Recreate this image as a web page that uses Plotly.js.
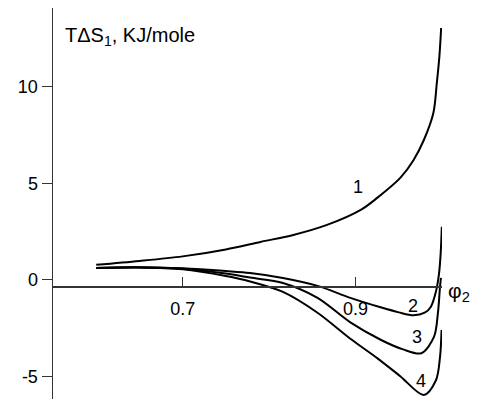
<!DOCTYPE html>
<html>
<head>
<meta charset="utf-8">
<script src="https://cdn.plot.ly/plotly-3.0.1.min.js"></script>
<style>body{margin:0;background:#fff}</style>
</head>
<body>
<div id="chart" style="width:477px;height:399px"></div>
<script>
// Curve 1
const phi1 = [0.60, 0.65, 0.70, 0.75, 0.79, 0.828, 0.867, 0.906, 0.925, 0.952, 0.967, 0.979, 0.99, 0.994, 0.997, 0.999];
const ts1  = [0.78, 0.98, 1.22, 1.58, 1.97, 2.33, 2.85, 3.63, 4.25, 5.30, 6.20, 7.25, 8.65, 10.2, 11.6, 13.05];
// Curve 2
const phi2 = [0.60, 0.65, 0.70, 0.75, 0.778, 0.816, 0.856, 0.894, 0.929, 0.95, 0.967, 0.98, 0.987, 0.993, 0.9965, 0.9985, 0.9998];
const ts2  = [0.62, 0.66, 0.60, 0.46, 0.36, 0.10, -0.31, -0.93, -1.42, -1.68, -1.83, -1.70, -1.40, -0.60, 0.30, 1.40, 2.75];
// Curve 3
const phi3 = [0.60, 0.65, 0.70, 0.75, 0.778, 0.816, 0.856, 0.894, 0.929, 0.955, 0.976, 0.9907, 0.9953, 0.9977, 0.9988];
const ts3  = [0.62, 0.65, 0.58, 0.33, 0.12, -0.16, -0.93, -2.20, -3.10, -3.60, -3.80, -2.95, -1.70, -0.36, 0.10];
// Curve 4
const phi4 = [0.60, 0.65, 0.70, 0.75, 0.778, 0.816, 0.856, 0.894, 0.925, 0.952, 0.979, 0.993, 0.9977, 0.9995];
const ts4  = [0.62, 0.64, 0.55, 0.20, -0.08, -0.62, -1.70, -3.05, -4.05, -5.00, -5.96, -5.20, -4.00, -2.60];

const curveLabels = ["1", "2", "3", "4"];
const labelX = [0.903, 0.966, 0.971, 0.976];
const labelY = [4.8, -1.35, -2.95, -5.25];

const xTicks = [0.7, 0.9];
const xTickText = ["0.7", "0.9"];
const yTicks = [-5, 0, 5, 10];
const yTickText = ["-5", "0", "5", "10"];

const FONT = "Arial, 'Liberation Sans', sans-serif";
const line = {color: "#000", width: 2, shape: "spline", smoothing: 0.9};

const traces = [
  {x: phi1, y: ts1, mode: "lines", line: line},
  {x: phi2, y: ts2, mode: "lines", line: line},
  {x: phi3, y: ts3, mode: "lines", line: line},
  {x: phi4, y: ts4, mode: "lines", line: line}
];

const annotations = curveLabels.map((t, i) => ({
  x: labelX[i], y: labelY[i], xref: "x", yref: "y", text: t, showarrow: false,
  font: {family: FONT, size: 18, color: "#000"}
}));
annotations.push({
  x: 0.025, y: 1.0, xref: "paper", yref: "paper", xanchor: "left", yanchor: "top",
  text: "TΔS<sub>1</sub>, KJ/mole", showarrow: false, yshift: -14,
  font: {family: FONT, size: 20, color: "#000"}
});
annotations.push({
  x: 1.0, y: -0.3, xref: "paper", yref: "y", xanchor: "left", yanchor: "middle",
  text: "φ<sub>2</sub>", showarrow: false, xshift: 4, yshift: -6,
  font: {family: FONT, size: 21, color: "#000"}
});

const layout = {
  width: 477, height: 399,
  margin: {l: 53, r: 35, t: 8, b: 0, pad: 0},
  paper_bgcolor: "#fff", plot_bgcolor: "#fff",
  showlegend: false,
  font: {family: FONT, size: 17, color: "#000"},
  xaxis: {
    range: [0.55, 1.0], anchor: "free", position: 0.289,
    tickvals: xTicks, ticktext: xTickText,
    ticks: "inside", ticklen: 9, tickcolor: "#333", tickwidth: 1,
    ticklabelstandoff: 6,
    showline: true, linecolor: "#333", linewidth: 1.5,
    showgrid: false, zeroline: false,
    tickfont: {family: FONT, size: 18, color: "#000"}
  },
  yaxis: {
    range: [-6.17, 14.09],
    tickvals: yTicks, ticktext: yTickText,
    ticks: "outside", ticklen: 10, tickcolor: "#333", tickwidth: 1,
    showline: true, linecolor: "#333", linewidth: 1.5,
    showgrid: false, zeroline: false,
    tickfont: {family: FONT, size: 18, color: "#000"}
  },
  annotations: annotations
};

Plotly.newPlot("chart", traces, layout, {staticPlot: true, displayModeBar: false});
</script>
</body>
</html>
